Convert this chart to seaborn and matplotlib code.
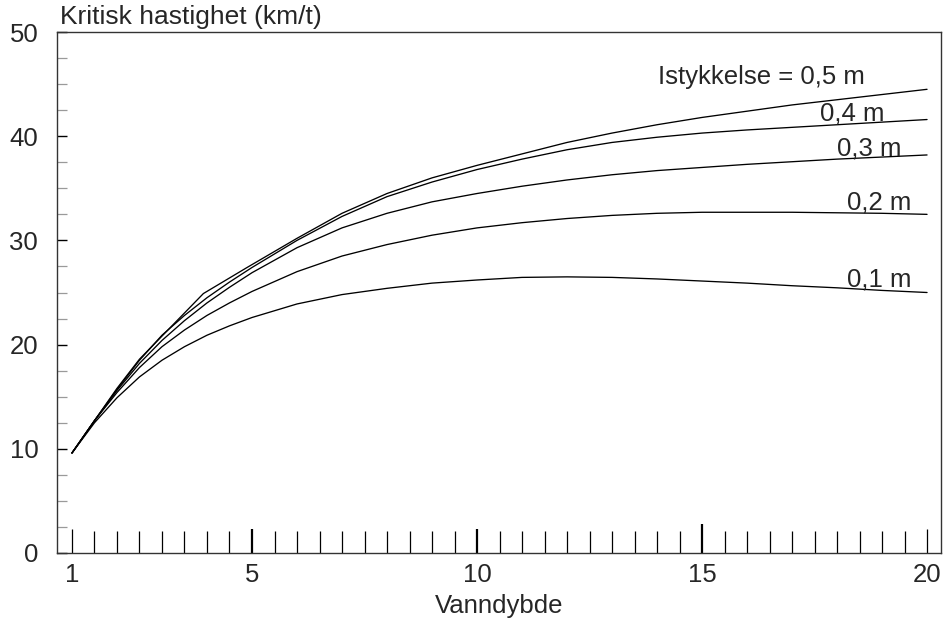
import numpy as np
import pandas as pd
import seaborn as sns
import matplotlib
matplotlib.use("Agg")
import matplotlib.pyplot as plt
from matplotlib.ticker import FixedLocator, MultipleLocator

# vanndybde (x) and kritisk hastighet (km/t)
dybde = [1, 1.5, 2, 2.5, 3, 3.5, 4, 4.5, 5, 6, 7, 8, 9, 10,
         11, 12, 13, 14, 15, 16, 17, 18, 19, 20]

v_01 = [9.6, 12.5, 14.9, 16.9, 18.5, 19.8, 20.9, 21.8, 22.6, 23.9, 24.8, 25.4,
        25.9, 26.2, 26.45, 26.5, 26.45, 26.3, 26.1, 25.9, 25.65, 25.45, 25.2, 25.0]
v_02 = [9.6, 12.7, 15.4, 17.8, 19.8, 21.4, 22.8, 24.0, 25.1, 27.0, 28.5, 29.6,
        30.5, 31.2, 31.7, 32.1, 32.4, 32.6, 32.7, 32.7, 32.7, 32.65, 32.6, 32.5]
v_03 = [9.6, 12.7, 15.6, 18.2, 20.4, 22.3, 24.0, 25.5, 26.9, 29.3, 31.2, 32.6,
        33.7, 34.5, 35.2, 35.8, 36.3, 36.7, 37.0, 37.3, 37.55, 37.8, 38.0, 38.2]
v_04 = [9.6, 12.7, 15.7, 18.5, 20.9, 22.8, 24.5, 26.0, 27.4, 30.0, 32.3, 34.2,
        35.6, 36.8, 37.8, 38.7, 39.4, 39.9, 40.3, 40.6, 40.85, 41.1, 41.35, 41.6]

# 0,5 m curve has its own x points (small kink near x=3.9)
dybde_05 = [1, 1.5, 2, 2.5, 3.92, 4.89, 6, 7, 8, 9, 10, 11, 12, 13, 14,
            15, 16, 17, 18, 19, 20]
v_05 = [9.6, 12.7, 15.8, 18.6, 24.9, 27.4, 30.2, 32.6, 34.5, 36.0, 37.2, 38.3,
        39.4, 40.3, 41.1, 41.8, 42.4, 43.0, 43.5, 44.0, 44.5]

etiketter = ["0,1 m", "0,2 m", "0,3 m", "0,4 m", "Istykkelse = 0,5 m"]
x_major = [1, 5, 10, 15, 20]
y_major = [0, 10, 20, 30, 40, 50]

rows = []
for navn, vals in zip(["0.1", "0.2", "0.3", "0.4"], [v_01, v_02, v_03, v_04]):
    for x, v in zip(dybde, vals):
        rows.append((navn, x, v))
for x, v in zip(dybde_05, v_05):
    rows.append(("0.5", x, v))
df = pd.DataFrame(rows, columns=["istykkelse", "Vanndybde", "hastighet"])

sns.set_style("white")
plt.rcParams["font.family"] = ["Liberation Sans", "DejaVu Sans"]

fig = plt.figure(figsize=(9.43, 6.28), dpi=100)
ax = fig.add_axes([57/943, 75/628, 884/943, 521/628])

sns.lineplot(data=df, x="Vanndybde", y="hastighet", hue="istykkelse",
             palette=["black"]*5, estimator=None, sort=False, legend=False,
             linewidth=0.95, ax=ax)

ax.set_xlim(0.667, 20.31)
ax.set_ylim(0, 50)

ax.xaxis.set_major_locator(FixedLocator(x_major))
ax.xaxis.set_minor_locator(MultipleLocator(0.5))
ax.yaxis.set_major_locator(FixedLocator(y_major))
ax.yaxis.set_minor_locator(MultipleLocator(2.5))
ax.set_xticklabels([str(v) for v in x_major])
ax.set_yticklabels([str(v) for v in y_major])

ax.tick_params(axis="x", which="both", bottom=True, top=False)
ax.tick_params(axis="y", which="both", left=True, right=False)
ax.tick_params(axis="x", which="major", direction="in", length=17, width=1.6,
               color="black", pad=7.5, labelsize=18.5)
ax.tick_params(axis="x", which="minor", direction="in", length=16, width=0.9,
               color="black")
ax.tick_params(axis="y", which="major", direction="in", length=7.5, width=1.0,
               color="black", pad=13.5, labelsize=18.5)
ax.tick_params(axis="y", which="minor", direction="in", length=7.5, width=0.9,
               color="#9a9a9a")

xt = ax.xaxis.get_major_ticks()
xt[0].tick1line.set_markeredgewidth(0.9)
xt[-1].tick1line.set_markeredgewidth(0.9)
xt[3].tick1line.set_markersize(21)

for s in ax.spines.values():
    s.set_color("#333333")
    s.set_linewidth(1.0)

ax.set_xlabel("Vanndybde", fontsize=18.5, labelpad=5)
ax.set_ylabel("")
fig.text(60/943, 1 - 24/628, "Kritisk hastighet (km/t)", fontsize=19,
         va="baseline", ha="left")

# curve labels
pos = [(18.22, 25.6), (18.22, 33.0), (18.0, 38.1), (17.62, 41.46), (14.02, 45.0)]
for (px, py), t in zip(pos, etiketter):
    ax.text(px, py, t, fontsize=18.5, ha="left", va="baseline")

fig.savefig("out.png", dpi=100)
